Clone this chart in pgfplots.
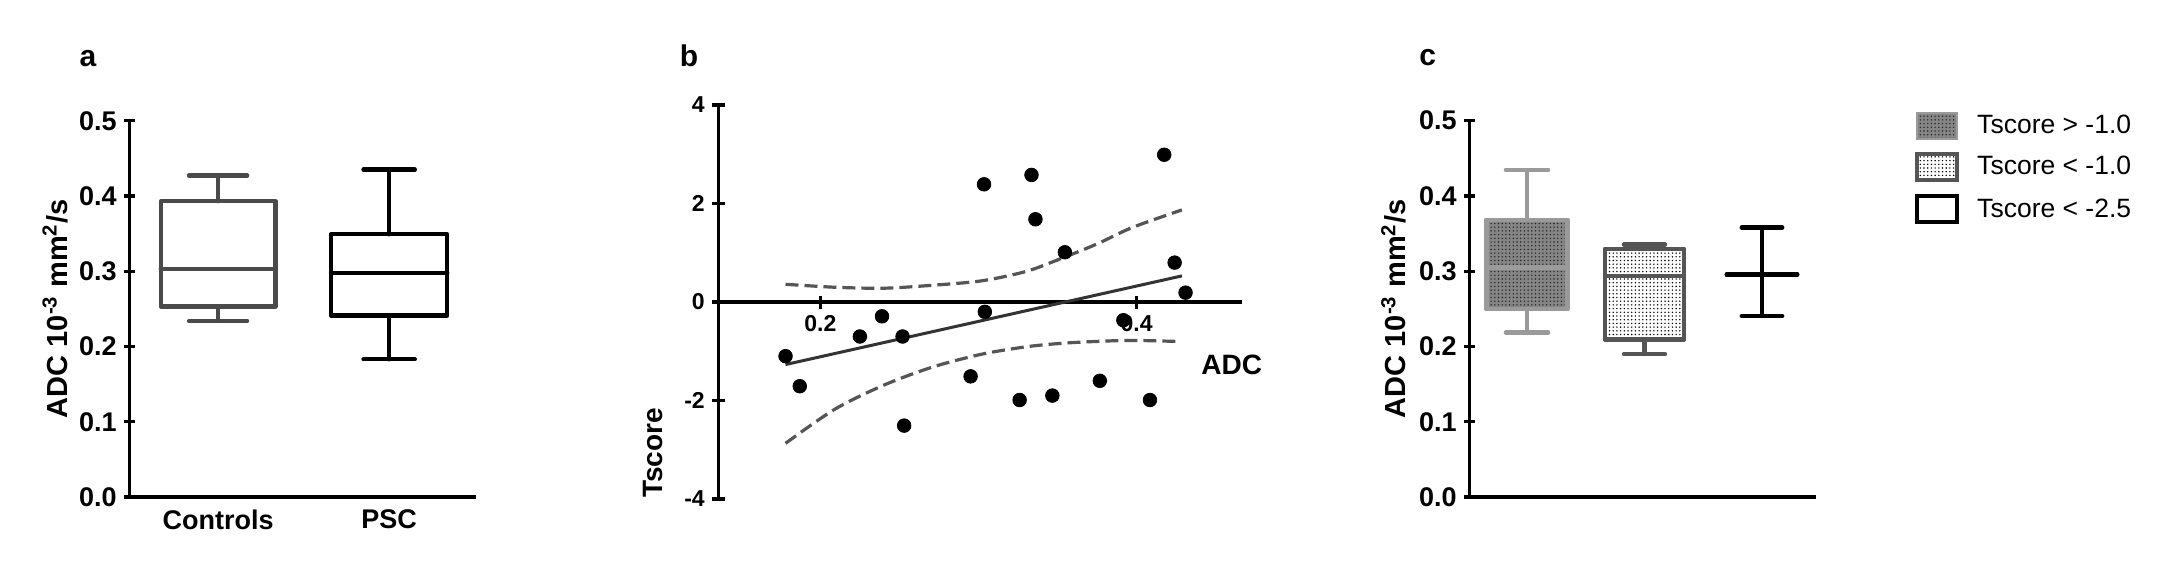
\documentclass[border=0pt]{standalone}
\usepackage{fontspec}
\setmainfont{Liberation Sans}
\usepackage{pgfplots}
\pgfplotsset{compat=1.18}
\usepgfplotslibrary{statistics}
\usetikzlibrary{patterns.meta}

\definecolor{ctrl}{HTML}{4A4A4A}
\definecolor{bandgray}{HTML}{555555}
\definecolor{fitgray}{HTML}{333333}
\definecolor{hiedge}{HTML}{9A9A9A}
\definecolor{hifill}{HTML}{858585}
\definecolor{midedge}{HTML}{555555}

% small dot texture used in panel c and its legend
\tikzdeclarepattern{
  name=finedots, type=uncolored,
  bottom left={(-0.5pt,-0.5pt)}, top right={(0.5pt,0.5pt)},
  tile size={(1.85pt,1.85pt)},
  code={\pgfpathcircle{\pgfpointorigin}{0.4pt}\pgfusepath{fill}}
}

\pgfplotsset{
  panel/.style={scale only axis, anchor=south west, clip=false,
    tick style={line width=1.65pt, black},
    tick align=outside,
    /pgf/number format/assume math mode=true},
  nolinearrows/.style={axis line style={-, line width=1.65pt},
    every outer x axis line/.append style={-}, every outer y axis line/.append style={-},
    every inner x axis line/.append style={-}},
  bxstyle/.style={line width=2.15pt, line cap=round, line join=round, solid, forget plot,
    boxplot/draw direction=y},
  legbox/.style={line width=2pt}
}

\begin{document}
\begin{tikzpicture}
\path[use as bounding box, fill=white] (0,0) rectangle (1087.5pt,287.5pt);

% ---- a ----
\begin{axis}[panel, at={(64.65pt,39pt)}, width=173.2pt, height=188.15pt,
  axis lines=left, nolinearrows, xmin=0.481, xmax=2.506, ymin=0, ymax=0.5,
  xtick={1,2}, xticklabels={Controls,PSC}, xtick style={draw=none},
  ytick={0,0.1,0.2,0.3,0.4,0.5}, yticklabels={0.0,0.1,0.2,0.3,0.4,0.5},
  major tick length=5.5pt,
  ticklabel style={font=\fontsize{13.5}{14}\selectfont\bfseries},
  ylabel={ADC 10\textsuperscript{-3} mm\textsuperscript{2}/s},
  ylabel style={font=\fontsize{14.5}{15}\selectfont\bfseries, at={(axis description cs:-0.2145,0.5)}, anchor=center}]
\addplot+[bxstyle, draw=ctrl, mark=none, boxplot prepared={draw position=1, lower whisker=0.234, lower quartile=0.253, median=0.303, upper quartile=0.393, upper whisker=0.427, box extend=0.67, whisker extend=0.34}] coordinates {};
\addplot+[bxstyle, draw=black, mark=none, boxplot prepared={draw position=2, lower whisker=0.183, lower quartile=0.241, median=0.298, upper quartile=0.349, upper whisker=0.435, box extend=0.68, whisker extend=0.30}] coordinates {};
\end{axis}

% ---- b ----
\begin{axis}[panel, at={(359.15pt,38pt)}, width=261.7pt, height=197pt,
  axis x line=middle, axis y line=left, nolinearrows,
  xmin=0.1355, xmax=0.4664, ymin=-4, ymax=4,
  xtick={0.2,0.4}, xticklabels={0.2,0.4},
  ytick={-4,-2,0,2,4}, yticklabels={-4,-2,0,2,4},
  major tick length=6.5pt,
  ticklabel style={font=\fontsize{11.5}{12}\selectfont\bfseries}]
\addplot[bandgray, line width=1.6pt, dash pattern=on 6.5pt off 3pt, smooth] coordinates {
(0.178,0.36) (0.209,0.30) (0.240,0.28) (0.271,0.34) (0.302,0.43) (0.330,0.62) (0.352,0.88) (0.375,1.18) (0.397,1.51) (0.4286,1.87)};
\addplot[bandgray, line width=1.6pt, dash pattern=on 6.5pt off 3pt, smooth] coordinates {
(0.178,-2.87) (0.209,-2.18) (0.240,-1.69) (0.271,-1.32) (0.302,-1.06) (0.330,-0.91) (0.352,-0.84) (0.375,-0.80) (0.397,-0.78) (0.425,-0.80)};
\addplot[fitgray, line width=1.5pt] coordinates {(0.178,-1.27) (0.4286,0.53)};
\addplot[only marks, mark=*, mark size=3.4pt, black] coordinates {
(0.178,-1.10) (0.187,-1.71) (0.225,-0.70) (0.239,-0.29) (0.252,-0.70) (0.253,-2.51)
(0.295,-1.51) (0.3035,2.39) (0.304,-0.20) (0.326,-1.99) (0.3335,2.58) (0.336,1.68)
(0.3467,-1.90) (0.3546,1.01) (0.3767,-1.60) (0.3916,-0.37) (0.4084,-1.99) (0.4174,2.99)
(0.424,0.80) (0.4309,0.19)};
\node[rotate=90, anchor=west, font=\fontsize{14}{15}\selectfont\bfseries] at (axis description cs:-0.1248,-0.015) {Tscore};
\node[font=\fontsize{14}{15}\selectfont\bfseries] at (axis description cs:0.981,0.34) {ADC};
\end{axis}

% ---- c ----
\begin{axis}[panel, at={(734.65pt,39pt)}, width=173.35pt, height=188.15pt,
  axis lines=left, nolinearrows, xmin=0.509, xmax=3.46, ymin=0, ymax=0.5,
  xtick=\empty,
  ytick={0,0.1,0.2,0.3,0.4,0.5}, yticklabels={0.0,0.1,0.2,0.3,0.4,0.5},
  major tick length=5.5pt,
  ticklabel style={font=\fontsize{13.5}{14}\selectfont\bfseries},
  ylabel={ADC 10\textsuperscript{-3} mm\textsuperscript{2}/s},
  ylabel style={font=\fontsize{14.5}{15}\selectfont\bfseries, at={(axis description cs:-0.218,0.5)}, anchor=center},
  legend image code/.code={\draw[#1] (0pt,-6.4pt) rectangle (19.6pt,6.4pt);},
  legend cell align=left,
  legend style={at={(axis description cs:1.2856,1.024)}, anchor=north west, draw=none, fill=none,
    inner sep=0pt, font=\fontsize{13.25}{14}\selectfont, row sep=6.3pt, column sep=9.3pt,
    nodes={inner sep=0pt}}]
\addplot+[bxstyle, draw=hiedge, mark=none, boxplot/every box/.style={fill=hifill, postaction={pattern=finedots, pattern color=black!85}},
  boxplot prepared={draw position=1, lower whisker=0.2186, lower quartile=0.250, median=0.305, upper quartile=0.3685, upper whisker=0.4345, box extend=0.69, whisker extend=0.36}] coordinates {};
\addplot+[bxstyle, draw=midedge, mark=none, boxplot/every box/.style={fill=white, postaction={pattern=finedots, pattern color=black}},
  boxplot prepared={draw position=2, lower whisker=0.190, lower quartile=0.2094, median=0.294, upper quartile=0.3296, upper whisker=0.3355, box extend=0.67, whisker extend=0.35}] coordinates {};
\addplot+[bxstyle, draw=black, mark=none, boxplot prepared={draw position=3, lower whisker=0.2405, lower quartile=0.2955, median=0.2955, upper quartile=0.2955, upper whisker=0.358, box extend=0.6, whisker extend=0.345}] coordinates {};
\addlegendimage{line width=1pt, draw=hiedge, fill=hifill, postaction={pattern=finedots, pattern color=black!85}}
\addlegendentry{Tscore > -1.0}
\addlegendimage{legbox, draw=midedge, fill=white, postaction={pattern=finedots, pattern color=black}}
\addlegendentry{Tscore < -1.0}
\addlegendimage{legbox, draw=black, fill=white}
\addlegendentry{Tscore < -2.5}
\end{axis}

\node[font=\fontsize{15}{16}\selectfont\bfseries] at (44pt,258.25pt) {a};
\node[font=\fontsize{15}{16}\selectfont\bfseries] at (344.5pt,259.5pt) {b};
\node[font=\fontsize{15}{16}\selectfont\bfseries] at (713.8pt,258.75pt) {c};
\end{tikzpicture}
\end{document}
